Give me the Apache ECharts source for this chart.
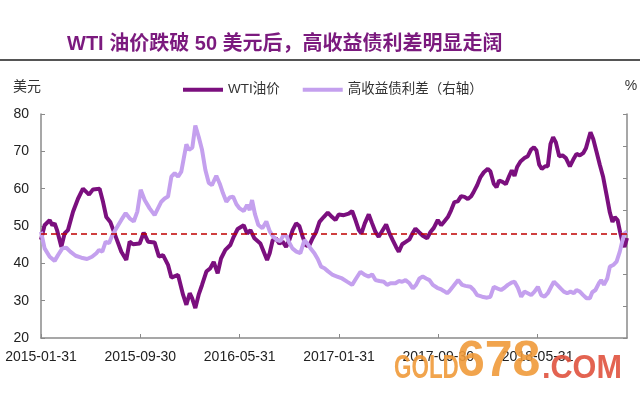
<!DOCTYPE html>
<html>
<head>
<meta charset="utf-8">
<script src="https://cdn.jsdelivr.net/npm/echarts@6/dist/echarts.min.js"></script>
<style>
html,body{margin:0;padding:0;background:#fff;}
#chart{width:640px;height:400px;}
</style>
</head>
<body>
<div id="chart"></div>
<script>
// x values are months elapsed since 2015-01-31
const tickLabels = ["2015-01-31","2015-09-30","2016-05-31","2017-01-31","2017-09-30","2018-05-31"];
const seriesNames = ["WTI油价","高收益债利差（右轴）"];
const refLevel = 48;

const oilMonths = [0.0,0.29,0.70,0.91,1.10,1.29,1.64,1.90,2.17,2.58,2.98,3.38,3.87,4.19,4.72,5.00,5.26,5.58,6.07,6.47,6.87,7.14,7.41,7.95,8.27,8.62,9.15,9.50,9.83,10.23,10.50,11.04,11.44,11.71,11.98,12.17,12.43,12.70,12.97,13.32,13.64,13.91,14.23,14.50,14.85,15.25,15.52,15.84,16.33,16.60,16.87,17.19,17.67,17.94,18.21,18.42,18.66,18.93,19.20,19.47,19.74,20.00,20.27,20.55,20.81,21.08,21.35,21.62,21.89,22.16,22.43,22.77,23.10,23.45,23.72,23.98,24.39,24.79,25.06,25.33,25.60,25.81,26.08,26.40,26.67,26.94,27.20,27.47,27.80,28.07,28.33,28.60,28.82,29.09,29.41,29.68,29.95,30.16,30.43,30.75,31.10,31.37,31.64,31.96,32.23,32.50,32.77,33.03,33.30,33.57,33.84,34.11,34.38,34.65,34.86,35.13,35.40,35.67,35.99,36.20,36.47,36.69,36.90,37.17,37.44,37.71,37.92,38.14,38.35,38.62,38.94,39.21,39.48,39.70,39.91,40.13,40.34,40.61,40.82,41.04,41.25,41.47,41.74,42.01,42.28,42.60,42.87,43.13,43.40,43.67,43.89,44.10,44.26,44.48,44.75,45.01,45.28,45.55,45.82,46.03,46.22,46.44,46.65,46.84,47.00,47.20];
const oilValues = [46.3,50.2,51.6,50.2,50.7,48.9,44.4,48.0,48.9,53.8,57.3,60.0,58.4,59.8,60.0,56.4,52.4,51.1,46.7,43.1,40.9,45.8,45.1,45.3,48.2,45.8,45.6,41.8,42.2,39.6,36.2,36.9,31.6,28.9,32.0,30.7,28.0,31.6,34.2,37.8,38.7,40.4,37.3,41.3,43.6,44.9,47.1,49.2,50.2,48.0,48.9,46.7,45.3,43.1,40.9,42.7,46.2,46.7,45.3,45.8,44.4,46.2,48.9,50.7,50.0,47.1,44.7,44.9,46.8,48.4,51.1,52.4,53.6,52.4,51.6,53.1,52.9,53.3,54.0,51.6,48.9,48.0,50.7,53.1,50.7,48.4,47.1,48.6,50.4,48.0,46.2,44.4,43.1,45.1,45.8,46.4,48.2,49.3,48.4,47.4,46.7,48.4,49.5,51.6,50.2,51.3,52.4,54.2,56.4,56.6,58.0,57.8,57.2,58.0,59.2,60.9,63.1,64.4,65.3,64.6,61.3,60.4,62.2,61.8,61.2,63.4,64.9,63.4,65.8,67.3,68.2,68.7,70.5,71.1,70.2,66.4,65.3,66.0,66.0,72.0,73.8,72.4,68.7,68.9,68.2,66.0,67.8,69.3,68.9,69.5,70.8,73.3,75.1,73.3,69.8,66.4,63.1,58.4,53.6,51.1,52.4,51.6,48.3,45.6,44.4,46.8];

const spreadMonths = [0.00,0.29,0.70,1.10,1.37,1.72,2.04,2.36,2.79,3.25,3.71,4.11,4.46,4.67,4.94,5.21,5.48,5.75,6.07,6.47,6.82,7.14,7.47,7.76,8.03,8.35,8.75,9.15,9.42,9.69,9.96,10.23,10.50,10.77,11.04,11.30,11.49,11.71,11.92,12.19,12.43,12.70,12.97,13.24,13.51,13.77,14.12,14.39,14.66,14.93,15.20,15.47,15.74,16.00,16.33,16.60,16.81,17.00,17.24,17.51,17.83,18.15,18.42,18.69,19.01,19.28,19.50,19.77,19.98,20.25,20.57,20.89,21.22,21.49,21.75,22.02,22.29,22.56,22.83,23.10,23.50,23.85,24.25,24.65,25.06,25.38,25.73,26.08,26.40,26.67,26.94,27.26,27.61,27.88,28.15,28.55,28.82,29.09,29.36,29.68,29.95,30.21,30.48,30.75,31.02,31.29,31.56,31.91,32.18,32.44,32.71,32.90,33.17,33.60,33.92,34.19,34.59,34.86,35.13,35.53,35.93,36.20,36.47,36.74,37.06,37.33,37.60,37.95,38.14,38.41,38.68,38.94,39.21,39.48,39.75,40.02,40.29,40.56,40.82,41.09,41.31,41.58,41.85,42.11,42.38,42.65,42.92,43.13,43.40,43.67,43.94,44.21,44.40,44.66,44.93,45.12,45.34,45.61,45.82,46.09,46.36,46.62,46.81,47.00,47.20];
const spreadValues = [5.32,4.80,4.54,4.41,4.59,4.80,4.82,4.70,4.57,4.51,4.47,4.54,4.65,4.75,4.70,5.01,4.96,5.22,5.43,5.69,5.90,5.74,5.64,5.95,6.63,6.31,6.05,5.84,6.05,6.26,6.36,6.42,7.04,7.15,7.04,7.20,7.60,8.05,7.88,7.95,8.64,8.29,7.88,7.25,6.85,6.78,7.07,6.83,6.52,6.26,6.39,6.42,6.18,6.05,5.97,6.16,6.00,6.31,5.86,5.53,5.43,5.64,5.34,5.17,5.06,5.03,5.20,5.20,4.99,4.80,4.70,4.65,5.06,4.93,4.78,4.65,4.47,4.23,4.18,4.09,3.97,3.92,3.86,3.76,3.66,3.86,4.07,3.97,3.92,3.99,3.81,3.78,3.76,3.66,3.71,3.71,3.78,3.76,3.81,3.71,3.55,3.66,3.86,3.92,3.86,3.81,3.66,3.57,3.53,3.47,3.40,3.47,3.60,3.81,3.66,3.63,3.60,3.50,3.34,3.29,3.26,3.29,3.60,3.55,3.50,3.57,3.66,3.74,3.76,3.57,3.29,3.45,3.40,3.34,3.45,3.60,3.34,3.29,3.40,3.60,3.76,3.66,3.55,3.45,3.40,3.45,3.40,3.50,3.45,3.34,3.24,3.24,3.43,3.50,3.71,3.81,3.66,3.86,4.23,4.28,4.39,4.70,5.01,5.27,5.32];

const oilData = oilMonths.map((m, i) => [m, oilValues[i]]);
const spreadData = spreadMonths.map((m, i) => [m, spreadValues[i]]);

const FONT = "'Liberation Sans','Noto Sans CJK SC',sans-serif";
const AXIS_COLOR = '#8a8a8a';
const DARK = '#7B0F7E';
const LIGHT = '#C4A0EE';

const chart = echarts.init(document.getElementById('chart'), null, {renderer: 'canvas'});
chart.setOption({
  animation: false,
  backgroundColor: '#ffffff',
  title: {
    text: 'WTI 油价跌破 50 美元后，高收益债利差明显走阔',
    left: 62, top: 29,
    textStyle: {fontSize: 20, fontWeight: 'bold', color: '#7B1A7E', fontFamily: FONT}
  },
  legend: {
    left: 178, top: 78,
    icon: 'rect', itemWidth: 40, itemHeight: 4, itemGap: 23,
    textStyle: {fontSize: 13.5, color: '#333', fontFamily: FONT},
    data: seriesNames
  },
  graphic: [
    {type: 'line', shape: {x1: 0, y1: 60, x2: 640, y2: 60}, style: {stroke: '#555', lineWidth: 2}},
    {type: 'text', x: 13, y: 86, style: {text: '美元', fill: '#333', font: "14px 'Noto Sans CJK SC'", textVerticalAlign: 'middle'}},
    {type: 'text', x: 631, y: 86, style: {text: '%', fill: '#333', font: "14px 'Liberation Sans'", textAlign: 'center', textVerticalAlign: 'middle'}},
    {type: 'text', x: 394, y: 386, scaleX: 0.66, style: {text: 'GOLD', fill: '#F09A3A', opacity: 0.9, font: "bold 34px 'Liberation Sans'", textVerticalAlign: 'bottom'}, z: 100},
    {type: 'text', x: 457, y: 387, scaleX: 1, style: {text: '678', fill: '#F09A3A', opacity: 0.9, font: "bold 50px 'Liberation Sans'", textVerticalAlign: 'bottom'}, z: 100},
    {type: 'text', x: 542, y: 386, scaleX: 0.9, style: {text: '.COM', fill: '#E0523E', opacity: 0.9, font: "bold 34px 'Liberation Sans'", textVerticalAlign: 'bottom'}, z: 100}
  ],
  grid: {left: 41, right: 13, top: 114, bottom: 62, containLabel: false},
  xAxis: {
    type: 'value', min: 0, max: 47.2, interval: 8,
    axisLine: {lineStyle: {color: AXIS_COLOR, width: 1.5}},
    axisTick: {inside: true, length: 4, lineStyle: {color: AXIS_COLOR}},
    splitLine: {show: false},
    axisLabel: {
      fontSize: 14, color: '#222', fontFamily: FONT, margin: 12,
      showMaxLabel: false,
      formatter: function (v) {
        const i = Math.round(v / 8);
        return (Math.abs(v - i * 8) < 1e-6 && tickLabels[i]) ? tickLabels[i] : '';
      }
    }
  },
  yAxis: [
    {
      type: 'value', min: 20, max: 80, interval: 10, position: 'left',
      axisLine: {show: true, lineStyle: {color: AXIS_COLOR, width: 1.5}},
      axisTick: {show: true, inside: true, length: 4, lineStyle: {color: AXIS_COLOR}},
      splitLine: {show: false},
      axisLabel: {fontSize: 14, color: '#222', fontFamily: FONT, margin: 12}
    },
    {
      type: 'value', min: 2, max: 9, interval: 1, position: 'right',
      axisLine: {show: true, lineStyle: {color: AXIS_COLOR, width: 1.5}},
      axisTick: {show: true, inside: true, length: 4, lineStyle: {color: AXIS_COLOR}},
      splitLine: {show: false},
      axisLabel: {show: false}
    }
  ],
  series: [
    {
      name: seriesNames[0], type: 'line', yAxisIndex: 0, data: oilData,
      showSymbol: false, symbol: 'none', z: 2,
      lineStyle: {color: DARK, width: 4}, itemStyle: {color: DARK},
      markLine: {
        silent: true, symbol: ['none', 'none'], animation: false,
        label: {show: false},
        lineStyle: {color: '#C00000', type: [6, 4], width: 1.5},
        data: [{yAxis: refLevel}]
      }
    },
    {
      name: seriesNames[1], type: 'line', yAxisIndex: 1, data: spreadData,
      showSymbol: false, symbol: 'none', z: 3,
      lineStyle: {color: LIGHT, width: 4}, itemStyle: {color: LIGHT}
    }
  ]
});
</script>
</body>
</html>
